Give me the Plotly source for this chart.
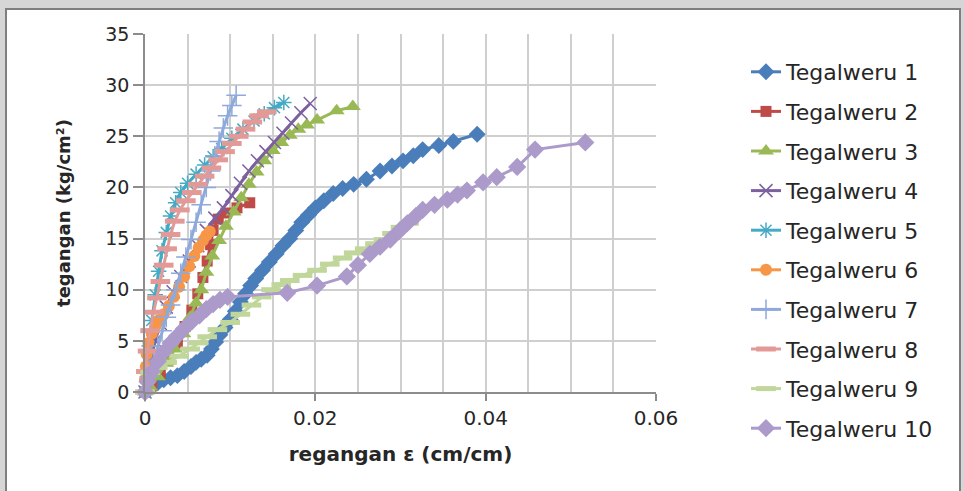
import plotly.graph_objects as go

names = ["Tegalweru 1", "Tegalweru 2", "Tegalweru 3", "Tegalweru 4", "Tegalweru 5",
         "Tegalweru 6", "Tegalweru 7", "Tegalweru 8", "Tegalweru 9", "Tegalweru 10"]

x1 = [0, 0.0008, 0.0015, 0.0022, 0.003, 0.0038, 0.0046, 0.0054, 0.006, 0.0066, 0.0073, 0.0078,
      0.0083, 0.0088, 0.0094, 0.010, 0.0106, 0.0112, 0.0118, 0.0124, 0.013, 0.0138, 0.0146,
      0.0154, 0.0162, 0.017, 0.0177, 0.0184, 0.0192, 0.020, 0.021, 0.0221, 0.0232, 0.0245,
      0.026, 0.0276, 0.029, 0.0303, 0.0315, 0.0326, 0.0345, 0.0362, 0.039]
y1 = [0, 0.5, 0.9, 1.2, 1.4, 1.6, 2.0, 2.5, 2.9, 3.2, 3.6, 4.2,
      4.9, 5.6, 6.3, 7.1, 7.9, 8.8, 9.6, 10.4, 11.1, 11.9, 12.7,
      13.5, 14.3, 15.0, 15.8, 16.6, 17.3, 18.0, 18.7, 19.4, 19.9, 20.3,
      20.8, 21.6, 22.1, 22.6, 23.1, 23.7, 24.1, 24.5, 25.2]

x2 = [0, 0.0008, 0.0018, 0.0028, 0.0038, 0.0047, 0.0055, 0.0062, 0.0068, 0.0073, 0.0077,
      0.008, 0.0086, 0.0095, 0.0108, 0.0123]
y2 = [0, 0.6, 1.8, 3.2, 4.8, 6.4, 8.0, 9.6, 11.2, 12.8, 14.4,
      15.8, 16.9, 17.5, 18.0, 18.5]

x3 = [0, 0.0006, 0.0015, 0.0025, 0.0035, 0.0045, 0.0053, 0.006, 0.0066, 0.0072, 0.0079,
      0.0087, 0.0095, 0.0104, 0.0113, 0.0122, 0.0131, 0.014, 0.015, 0.016, 0.017, 0.018,
      0.019, 0.0202, 0.0225, 0.0244]
y3 = [0, 0.5, 1.5, 2.8, 4.2, 5.7, 7.3, 8.7, 10.0, 11.7, 13.3,
      14.8, 16.2, 17.6, 19.0, 20.3, 21.5, 22.6, 23.6, 24.4, 25.1, 25.7,
      26.1, 26.6, 27.5, 27.9]

x4 = [0, 0.0003, 0.0007, 0.0012, 0.0018, 0.0025, 0.0033, 0.0042, 0.0052, 0.0062, 0.0072,
      0.0082, 0.0092, 0.0102, 0.0112, 0.0122, 0.0132, 0.0142, 0.0152, 0.0162, 0.0172,
      0.0183, 0.0194]
y4 = [0, 1.5, 3.2, 5.0, 6.7, 8.3, 9.8, 11.3, 12.8, 14.3, 15.8,
      17.0, 18.0, 19.2, 20.4, 21.6, 22.6, 23.5, 24.4, 25.3, 26.3,
      27.3, 28.2]

x5 = [0, 0.0002, 0.0005, 0.0008, 0.0012, 0.0016, 0.002, 0.0025, 0.003, 0.0036, 0.0042,
      0.005, 0.006, 0.007, 0.008, 0.009, 0.0102, 0.0115, 0.0128, 0.014, 0.0152, 0.0163]
y5 = [0, 2.0, 4.5, 7.0, 9.5, 11.8, 13.8, 15.6, 17.2, 18.5, 19.5,
      20.4, 21.3, 22.2, 23.0, 23.8, 24.8, 25.7, 26.5, 27.2, 27.8, 28.3]

x6 = [0, 0, 0.0001, 0.0002, 0.0004, 0.0008, 0.0012, 0.0017, 0.0022, 0.0028, 0.0034,
      0.004, 0.0046, 0.0052, 0.0058, 0.0063, 0.0068, 0.0072, 0.0076]
y6 = [0, 1.2, 2.5, 3.7, 4.8, 5.7, 6.4, 7.0, 7.6, 8.4, 9.3,
      10.3, 11.3, 12.3, 13.3, 14.1, 14.8, 15.3, 15.7]

x7 = [0, 0.0005, 0.001, 0.0015, 0.002, 0.0025, 0.003, 0.0036, 0.0042, 0.0048, 0.0054,
      0.006, 0.0066, 0.0072, 0.0077, 0.0082, 0.0087, 0.0092, 0.0097, 0.0102, 0.0107]
y7 = [0, 1.5, 3.0, 4.5, 6.0, 7.3, 8.5, 10.0, 11.6, 13.2, 14.9,
      16.6, 18.3, 20.0, 21.6, 23.1, 24.5, 25.8, 27.0, 28.0, 29.0]

x8 = [0, 0.0001, 0.0003, 0.0006, 0.001, 0.0014, 0.0018, 0.0022, 0.0026, 0.003, 0.0035,
      0.0041, 0.0048, 0.0055, 0.0062, 0.007, 0.0078, 0.0086, 0.0094, 0.0102, 0.011,
      0.0118, 0.0126, 0.0134, 0.0143]
y8 = [0, 2.0, 4.0, 6.0, 7.8, 9.2, 10.8, 12.4, 14.0, 15.4, 16.7,
      17.8, 18.7, 19.5, 20.3, 21.1, 21.9, 22.7, 23.5, 24.3, 25.0,
      25.7, 26.4, 27.0, 27.4]

x9 = [0, 0.0006, 0.0015, 0.0026, 0.004, 0.0053, 0.0063, 0.0073, 0.0085, 0.010, 0.0112,
      0.0125, 0.0137, 0.0148, 0.016, 0.017, 0.0185, 0.0202, 0.0217, 0.0232, 0.0245,
      0.0258, 0.027, 0.028, 0.029, 0.030, 0.031]
y9 = [0, 1.9, 2.4, 2.9, 3.5, 4.2, 4.8, 5.4, 6.1, 6.8, 7.6,
      8.5, 9.3, 10.0, 10.5, 10.9, 11.4, 11.9, 12.5, 13.1, 13.6,
      14.0, 14.5, 14.9, 15.5, 16.1, 16.5]

x10 = [0, 0.0003, 0.0008, 0.0015, 0.0022, 0.003, 0.0038, 0.0046, 0.0055, 0.0064, 0.0072,
       0.008, 0.0088, 0.0097, 0.0167, 0.0202, 0.0237, 0.025, 0.0264, 0.0276, 0.0288,
       0.0298, 0.0308, 0.0318, 0.0326, 0.034, 0.0355, 0.0367, 0.0378, 0.0397, 0.0413,
       0.0437, 0.0458, 0.0517]
y10 = [0, 1.0, 2.0, 3.0, 3.9, 4.8, 5.5, 6.2, 6.9, 7.5, 8.1,
       8.6, 9.0, 9.3, 9.7, 10.4, 11.3, 12.4, 13.5, 14.2, 14.9,
       15.7, 16.5, 17.2, 17.8, 18.3, 18.8, 19.3, 19.7, 20.5, 21.0,
       22.0, 23.7, 24.4]

xs = [x1, x2, x3, x4, x5, x6, x7, x8, x9, x10]
ys = [y1, y2, y3, y4, y5, y6, y7, y8, y9, y10]

colors = ["#4A7EBB", "#BE4B48", "#98B954", "#7D60A0", "#46AAC5",
          "#F79646", "#8EA9DB", "#E39A96", "#C0D69A", "#AC9ACB"]
markers = [
    dict(symbol="diamond", size=13),
    dict(symbol="square", size=11),
    dict(symbol="triangle-up", size=14),
    dict(symbol="x-thin-open", size=13, line=dict(width=1.5)),
    dict(symbol="asterisk-open", size=13, line=dict(width=1.5)),
    dict(symbol="circle", size=12),
    dict(symbol="cross-thin-open", size=14, line=dict(width=1.5)),
    dict(symbol="line-ew-open", size=14, line=dict(width=5)),
    dict(symbol="line-ew-open", size=14, line=dict(width=5)),
    dict(symbol="diamond", size=14),
]

FONT = "DejaVu Sans"
fig = go.Figure()
for i in range(10):
    m = dict(markers[i])
    m["color"] = colors[i]
    if "line" in m:
        m["line"] = dict(m["line"], color=colors[i])
    fig.add_trace(go.Scatter(
        x=xs[i], y=ys[i], name=names[i], mode="lines+markers",
        line=dict(color=colors[i], width=3), marker=m,
        legendgroup="g%d" % i, cliponaxis=False,
    ))

L, R, T, B = 145, 656, 34, 392
W, H = 964, 491
pw, ph = R - L, B - T

def px(xp):
    return (xp - L) / pw

def py(yp):
    return (B - yp) / ph

fig.update_layout(
    width=W, height=H,
    margin=dict(l=L, r=W - R, t=T, b=H - B),
    paper_bgcolor="#d6d6d6",
    plot_bgcolor="white",
    font=dict(family=FONT, size=18, color="#262626"),
    showlegend=True,
    legend=dict(
        x=px(746), xanchor="left", y=py(51), yanchor="top",
        traceorder="grouped", tracegroupgap=8,
        font=dict(family=FONT, size=22, color="#262626"),
        bgcolor="rgba(0,0,0,0)", maxheight=470,
    ),
    shapes=[dict(
        type="rect", xref="paper", yref="paper", layer="below",
        x0=px(6), x1=px(960), y0=py(500), y1=py(9),
        fillcolor="white", line=dict(color="#7f7f7f", width=2),
    )],
    xaxis=dict(
        range=[0, 0.06], dtick=0.02, tick0=0,
        showgrid=True, gridcolor="#cfcfcf", gridwidth=1.5,
        minor=dict(dtick=0.005, showgrid=True, gridcolor="#cfcfcf", gridwidth=1.5),
        showline=True, linecolor="#8c8c8c", linewidth=1.5,
        ticks="outside", ticklen=7, tickcolor="#8c8c8c", tickwidth=1.5,
        zeroline=False,
        tickfont=dict(family=FONT, size=20, color="#262626"),
        title=dict(text="<b>regangan ε (cm/cm)</b>", standoff=18,
                   font=dict(family=FONT, size=20, color="#262626")),
    ),
    yaxis=dict(
        range=[0, 35], dtick=5, tick0=0,
        showgrid=True, gridcolor="#cfcfcf", gridwidth=1.5,
        showline=True, linecolor="#8c8c8c", linewidth=1.5,
        ticks="outside", ticklen=10, tickcolor="#8c8c8c", tickwidth=1.5,
        zeroline=False,
        tickfont=dict(family=FONT, size=19, color="#262626"),
        title=dict(text="<b>tegangan (kg/cm²)</b>", standoff=30,
                   font=dict(family=FONT, size=18, color="#262626")),
    ),
)

fig.write_html("out.html", config={"displayModeBar": False},
               post_script="document.body.style.margin='0';document.body.style.background='#d6d6d6';")
